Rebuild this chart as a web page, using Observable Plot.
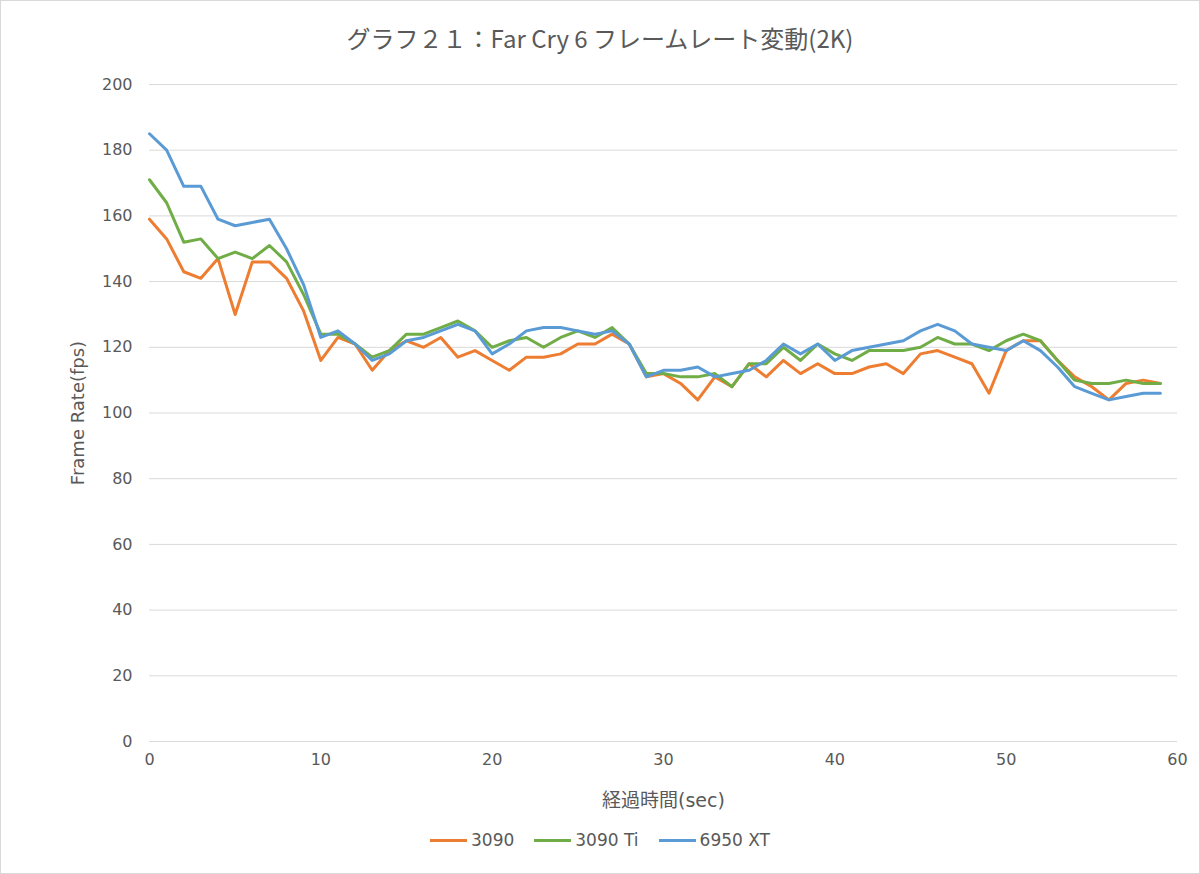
<!DOCTYPE html>
<html><head><meta charset="utf-8">
<script src="https://cdn.jsdelivr.net/npm/d3@7"></script>
<script src="https://cdn.jsdelivr.net/npm/@observablehq/plot@0.6"></script>
<style>
body{margin:0;background:#fff;font-family:"DejaVu Sans","Noto Sans CJK JP",sans-serif;}
#wrap{position:relative;width:1200px;height:874px;overflow:hidden;}
#border{position:absolute;left:0;top:0;width:1200px;height:874px;box-sizing:border-box;border:1px solid #d9d9d9;}
#title{position:absolute;left:0;top:23px;width:1200px;text-align:center;font-family:"Noto Sans CJK JP",sans-serif;font-size:24px;line-height:30px;color:#595959;}
#plot{position:absolute;left:0;top:64px;}
#legend{position:absolute;left:0;top:828px;width:1200px;display:flex;justify-content:center;align-items:center;font-size:17px;line-height:24px;color:#595959;}
.item{display:flex;align-items:center;margin:0 10px;}
.sw{width:37px;height:3px;margin-right:4px;}
</style>
</head><body>
<div id="wrap">
<div id="border"></div>
<div id="title"></div>
<div id="plot"></div>
<div id="legend"></div>
</div>
<script>
const titleText = "グラフ２１：Far Cry 6 フレームレート変動(2K)";
const xLabel = "経過時間(sec)";
const yLabel = "Frame Rate(fps)";
const series = ["3090", "3090 Ti", "6950 XT"];
const colors = ["#ED7D31", "#70AD47", "#5B9BD5"];
const seconds = [0,1,2,3,4,5,6,7,8,9,10,11,12,13,14,15,16,17,18,19,20,21,22,23,24,25,26,27,28,29,30,31,32,33,34,35,36,37,38,39,40,41,42,43,44,45,46,47,48,49,50,51,52,53,54,55,56,57,58,59];
const fps3090 = [159,153,143,141,147,130,146,146,141,131, 116,123,121,113,119,122,120,123,117,119, 116,113,117,117,118,121,121,124,121,111, 112,109,104,111,108,115,111,116,112,115, 112,112,114,115,112,118,119,117,115,106, 119,122,122,116,111,108,104,109,110,109];
const fps3090Ti = [171,164,152,153,147,149,147,151,146,136, 124,124,121,117,119,124,124,126,128,125, 120,122,123,120,123,125,123,126,121,112, 112,111,111,112,108,115,115,120,116,121, 118,116,119,119,119,120,123,121,121,119, 122,124,122,116,110,109,109,110,109,109];
const fps6950XT = [185,180,169,169,159,157,158,159,150,139, 123,125,121,116,118,122,123,125,127,125, 118,121,125,126,126,125,124,125,121,111, 113,113,114,111,112,113,116,121,118,121, 116,119,120,121,122,125,127,125,121,120, 119,122,119,114,108,106,104,105,106,106];
const xTicks = [0,10,20,30,40,50,60];
const yTicks = [0,20,40,60,80,100,120,140,160,180,200];

const valuesBySeries = [fps3090, fps3090Ti, fps6950XT];
const data = series.flatMap((s, k) => seconds.map((t, i) => ({s, t, v: valuesBySeries[k][i]})));

document.getElementById("title").textContent = titleText;

const fontFam = '"DejaVu Sans","Noto Sans CJK JP",sans-serif';
const chart = Plot.plot({
  width: 1200, height: 760,
  marginLeft: 149, marginRight: 23, marginTop: 20, marginBottom: 83,
  style: {fontFamily: fontFam, fontSize: "16px", color: "#595959", background: "transparent"},
  x: {domain: [0, 60], ticks: xTicks, tickSize: 0, tickPadding: 12, label: null, tickFormat: d => String(d)},
  y: {domain: [0, 200], ticks: yTicks, tickSize: 0, tickPadding: 17, label: null, tickFormat: d => String(d)},
  color: {domain: series, range: colors},
  marks: [
    Plot.gridY(yTicks, {stroke: "#d9d9d9", strokeOpacity: 1, strokeWidth: 1}),
    Plot.line(data, {x: "t", y: "v", z: "s", stroke: "s", strokeWidth: 3, strokeLinejoin: "round", strokeLinecap: "round"}),
    Plot.text([xLabel], {text: d => d, frameAnchor: "bottom", dy: 59, fontSize: 19, fill: "#595959", textAnchor: "middle", lineAnchor: "middle"}),
    Plot.text([yLabel], {text: d => d, frameAnchor: "left", dx: -71, rotate: -90, fontSize: 18, fill: "#595959", textAnchor: "middle", lineAnchor: "middle"})
  ]
});
document.getElementById("plot").appendChild(chart);

const legend = document.getElementById("legend");
series.forEach((s, k) => {
  const it = document.createElement("div"); it.className = "item";
  const sw = document.createElement("div"); sw.className = "sw"; sw.style.background = colors[k];
  const lb = document.createElement("span"); lb.textContent = s;
  it.appendChild(sw); it.appendChild(lb); legend.appendChild(it);
});
</script>
</body></html>
